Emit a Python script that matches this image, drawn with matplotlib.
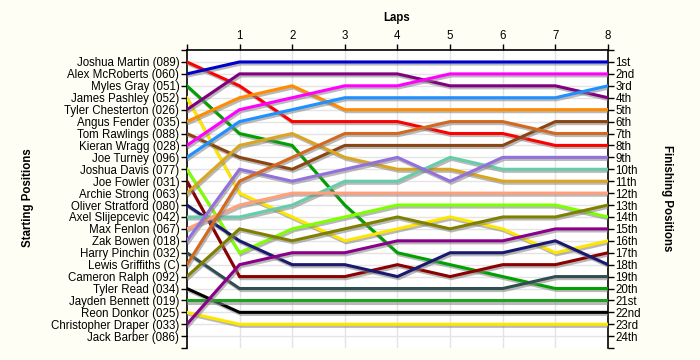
import matplotlib
matplotlib.use("Agg")
import matplotlib.pyplot as plt
import matplotlib.patheffects as pe

plt.rcParams["font.family"] = ["Liberation Sans", "DejaVu Sans"]

# --- data -------------------------------------------------------------
laps = [0, 1, 2, 3, 4, 5, 6, 7, 8]

drivers = [
    "Joshua Martin (089)", "Alex McRoberts (060)", "Myles Gray (051)",
    "James Pashley (052)", "Tyler Chesterton (026)", "Angus Fender (035)",
    "Tom Rawlings (088)", "Kieran Wragg (028)", "Joe Turney (096)",
    "Joshua Davis (077)", "Joe Fowler (031)", "Archie Strong (063)",
    "Oliver Stratford (080)", "Axel Slijepcevic (042)", "Max Fenlon (067)",
    "Zak Bowen (018)", "Harry Pinchin (032)", "Lewis Griffiths (C)",
    "Cameron Ralph (092)", "Tyler Read (034)", "Jayden Bennett (019)",
    "Reon Donkor (025)", "Christopher Draper (033)", "Jack Barber (086)",
]

# race position of each driver at laps 0..8 (in starting order)
race_positions = [
    [1, 3, 6, 6, 6, 7, 7, 8, 8],
    [2, 1, 1, 1, 1, 1, 1, 1, 1],
    [3, 7, 8, 13, 17, 18, 19, 20, 20],
    [4, 12, 14, 16, 15, 14, 15, 17, 16],
    [5, 2, 2, 2, 2, 3, 3, 3, 4],
    [6, 4, 3, 5, 5, 5, 5, 5, 5],
    [7, 9, 10, 8, 8, 8, 8, 6, 6],
    [8, 5, 4, 3, 3, 2, 2, 2, 2],
    [9, 6, 5, 4, 4, 4, 4, 4, 3],
    [10, 17, 15, 14, 13, 13, 13, 13, 14],
    [11, 19, 19, 19, 18, 19, 18, 18, 17],
    [12, 8, 7, 9, 10, 10, 11, 11, 11],
    [13, 16, 18, 18, 19, 17, 17, 16, 18],
    [14, 14, 13, 11, 11, 9, 10, 10, 10],
    [15, 13, 12, 12, 12, 12, 12, 12, 12],
    [16, 10, 11, 10, 9, 11, 9, 9, 9],
    [17, 20, 20, 20, 20, 20, 20, 19, 19],
    [18, 11, 9, 7, 7, 6, 6, 7, 7],
    [19, 15, 16, 15, 14, 15, 14, 14, 13],
    [20, 22, 22, 22, 22, 22, 22, 22, 22],
    [21, 21, 21, 21, 21, 21, 21, 21, 21],
    [22, 23, 23, 23, 23, 23, 23, 23, 23],
    [23, 18, 17, 17, 16, 16, 16, 15, 15],
    None,
]

finish_labels = [
    "1st", "2nd", "3rd", "4th", "5th", "6th", "7th", "8th", "9th", "10th",
    "11th", "12th", "13th", "14th", "15th", "16th", "17th", "18th", "19th",
    "20th", "21st", "22nd", "23rd", "24th",
]

# --- styles -----------------------------------------------------------
colors = [
    "#ff0000", "#0000cd", "#00a000", "#ffe600", "#800080", "#ff8c00",
    "#8b4513", "#ff00ff", "#1e90ff", "#7fff00", "#8b0000", "#daa520",
    "#191970", "#66cdaa", "#ffa07a", "#9370db", "#2f4f4f", "#d2691e",
    "#808000", "#000000", "#22a022", "#ffe600", "#8b008b", "#999999",
]
BG = "#fffef4"
n_rows = len(drivers)

fig = plt.figure(figsize=(7, 3.6), dpi=100, facecolor=BG)
ax = fig.add_axes([0.267, 0.033, 0.6016, 0.828])
ax.set_facecolor("white")

shadow = [pe.SimpleLineShadow(offset=(1, -1.5), shadow_color="#808080", alpha=0.55),
          pe.Normal()]
for pos, col in zip(race_positions, colors):
    if pos is None:
        continue
    ax.plot(laps, pos, color=col, lw=2.2, solid_joinstyle="miter",
            path_effects=shadow, zorder=3)

ax.set_xlim(0, 8)
ax.set_ylim(n_rows + 1, 0)

# grid
for r in range(1, n_rows + 1):
    ax.axhline(r, color="#e4e4e4", lw=1, zorder=1)
for lap in laps[1:-1]:
    ax.axvline(lap, color="#e4e4e4", lw=1, zorder=1)

# left: starting positions
ax.set_yticks(range(0, n_rows + 2))
ax.set_yticklabels([""] + drivers + [""], fontsize=8.3)
ax.tick_params(axis="y", length=4, width=1, pad=1.5)

# top: laps
ax.xaxis.tick_top()
ax.set_xticks(laps)
ax.set_xticklabels([""] + [str(l) for l in laps[1:]], fontsize=8.3)
ax.tick_params(axis="x", length=4, width=1, pad=1.5)

for side in ("top", "left", "right"):
    ax.spines[side].set_linewidth(1.2)
ax.spines["bottom"].set_visible(False)

# right: finishing positions
ax2 = ax.twinx()
ax2.set_ylim(n_rows + 1, 0)
ax2.set_yticks(range(0, n_rows + 2))
ax2.set_yticklabels([""] + finish_labels + [""], fontsize=8.3)
ax2.tick_params(axis="y", length=4, width=1, pad=1.5)
for side in ("top", "bottom", "left", "right"):
    ax2.spines[side].set_visible(False)

fig.text(0.567, 0.95, "Laps", ha="center", va="center",
         fontsize=8.3, fontweight="bold")
fig.text(0.04, 0.45, "Starting Positions", ha="center", va="center",
         rotation=90, fontsize=8.3, fontweight="bold")
fig.text(0.953, 0.45, "Finishing Positions", ha="center", va="center",
         rotation=270, fontsize=8.3, fontweight="bold")

fig.savefig("out.png", dpi=100, facecolor=BG)
